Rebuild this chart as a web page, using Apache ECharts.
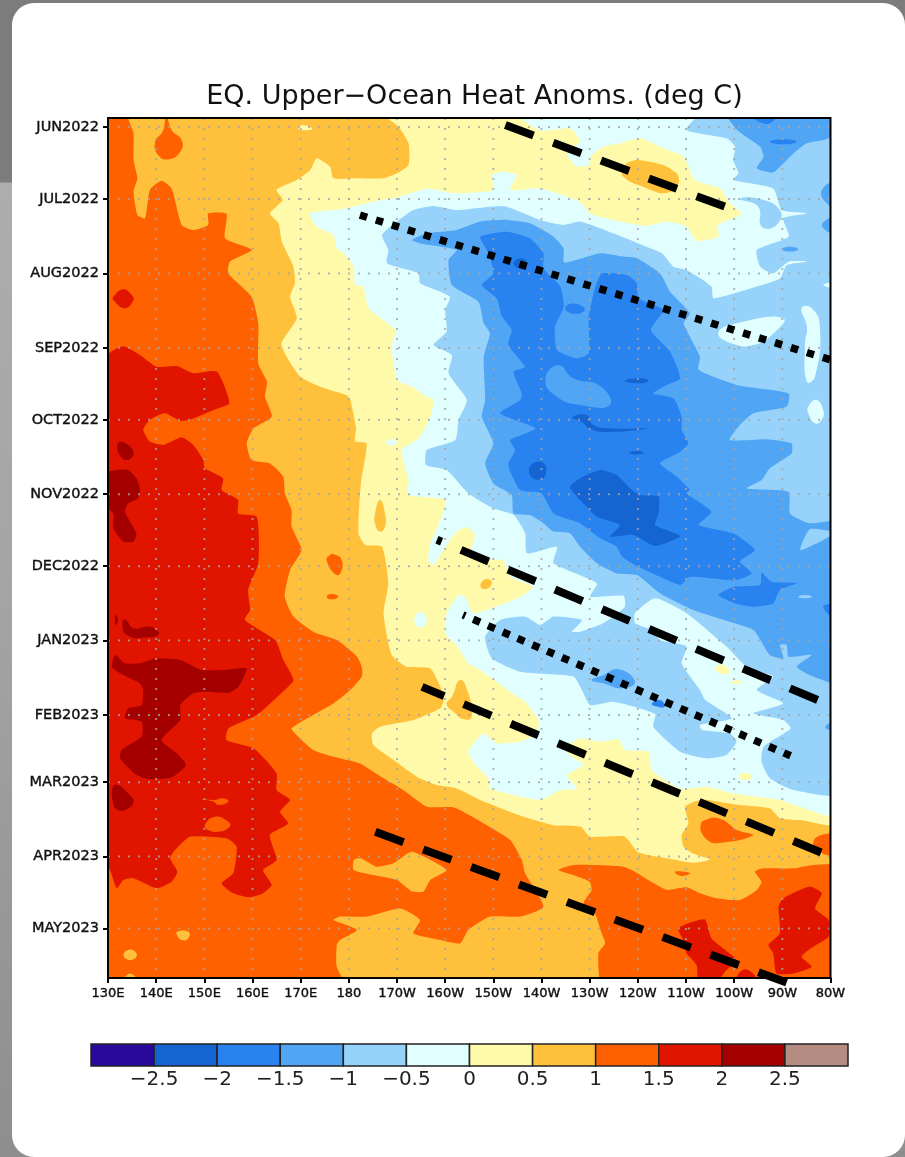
<!DOCTYPE html>
<html><head><meta charset="utf-8">
<style>
html,body{margin:0;padding:0;width:905px;height:1157px;overflow:hidden;
background:linear-gradient(180deg,#7c7c7c 0,#7c7c7c 182px,#adadad 183px,#a4a4a4 600px,#8e8e8e 1157px);}
#card{position:absolute;left:12px;top:3px;width:893px;height:1154px;background:#fff;border-radius:22px;}
#main{position:absolute;left:0;top:0;width:905px;height:1157px;}
</style>
<script src="https://cdn.jsdelivr.net/npm/echarts@6/dist/echarts.min.js"></script>
</head><body><div id="card"></div><div id="main"></div>
<script>
// ---- axes ----
const lonTicks=[130,140,150,160,170,180,190,200,210,220,230,240,250,260,270,280];
const lonLabels=['130E','140E','150E','160E','170E','180','170W','160W','150W','140W','130W','120W','110W','100W','90W','80W'];
const monthDays=[0,30,61,92,122,153,183,214,245,273,304,334];
const monthLabels=['JUN2022','JUL2022','AUG2022','SEP2022','OCT2022','NOV2022','DEC2022','JAN2023','FEB2023','MAR2023','APR2023','MAY2023'];
// ---- colour scale ----
const bandEdges=[-3,-2.5,-2,-1.5,-1,-0.5,0,0.5,1,1.5,2,2.5,3];
const bandColors=['#2a0a9c','#1464d2','#2882f0','#50a5f5','#96d2fa','#e1ffff','#fffaaa','#ffc03c','#ff6000','#e11400','#a50000','#b48c82'];
// ---- contour outlines, [longitude east, days since 1 Jun 2022] ----
const fieldBase=[[125,-10],[285,-10],[285,360],[125,360]];
const gt15West=[[128,98.5],[131.8,92.2],[133.5,91.5],[136.6,95],[140.1,99.9],[144.3,99.6],[147.7,102.6],[152.6,101.9],[155.2,115],[151.9,117.9],[147,122],[145,122.4],[141.8,119.3],[138.7,122],[137.3,126.2],[138.7,131.1],[141.5,132.5],[145.3,129.3],[147.7,132.5],[149.8,138.8],[150.1,142.2],[153.9,146.4],[153.6,151.3],[157,155.4],[157,161],[160.9,162.4],[161.2,181.8],[159.1,192.9],[159.5,201.3],[158.4,205.4],[164.7,213.8],[166.4,222.1],[168.5,230.4],[166.7,234.6],[160.9,245],[155,250.6],[154.6,255.4],[160.2,258.9],[165,269.3],[165,276.3],[167.8,280.4],[165.7,285.3],[167.4,290.2],[163.6,295],[165,305.4],[162.2,309.6],[164,315.9],[162.2,319.3],[159.5,321],[156,319.3],[153.6,315.2],[156,311],[156.7,299.9],[154.6,296.4],[147,295.7],[143.9,301.3],[142.9,304.7],[144.4,310.3],[143.2,314.5],[140.1,317.2],[135.3,313],[133.2,313.8],[131.8,317.2],[130.4,309.6],[128,304]];
const gt15Spot=[[131.1,70.7],[133.2,67.6],[134.9,70],[135.3,72.1],[133.5,75.5],[131.1,72.1]];
const gt2A=[[132.5,131.1],[135.3,135.3],[133.9,138.8],[132.1,135.3]];
const gt2B=[[128,145],[131.8,142.9],[134.2,142.9],[135.9,146.4],[136.6,150.6],[136.3,154.7],[134.2,156.8],[133.5,160.3],[135.9,169.3],[135.3,172.8],[133.2,172.8],[131.1,167.2],[131.1,161],[128,155.4]];
const gt2C=[[133,206.1],[133.7,205.4],[135.3,208.9],[138.7,208.2],[140.6,211],[138.7,212.6],[133.9,211.7]];
const gt2D=[[131.5,203.3],[132.1,205.4],[131.6,207.5]];
const gt2E=[[131.5,220],[133.5,223.5],[136.6,223.5],[140.1,221.4],[145,222.1],[149.4,226.3],[153.9,226.3],[158.8,225.6],[157.1,233.2],[155,235.7],[149.8,235.3],[147.7,236],[145,240.9],[145,247.1],[141.1,255.4],[144.3,261],[146.2,265.9],[143.2,271],[138.7,271.8],[135.9,270],[132.5,263],[132.8,259.6],[137,254],[137,247.8],[133.5,246.4],[134.2,242.2],[137,240.9],[137.3,234.6],[136.6,231.8],[132.5,227.6],[130.8,224.9]];
const gt2F=[[131,274.9],[132.1,274.2],[134.2,277.7],[135.3,281.1],[133.9,284.3],[131.8,284.3],[131,281.1]];
const lt15A=[[150.1,290.9],[152.2,287.4],[155,289.5],[155.3,291.5],[153.2,293.6],[150.8,292.9]];
const lt15B=[[149.4,280.2],[152.2,280.4],[153.9,279.7],[155,281.1],[152.9,282.5],[151.9,281.1]];
const lt1Main=[[134.2,-6],[135.3,2.6],[135.3,13.7],[136.1,21.4],[135.3,26.9],[136.1,36.7],[137.7,38],[138.7,26.2],[141.1,22.4],[143.2,25.6],[145.3,40.8],[147.7,42.9],[150.8,40.8],[150.8,36],[154.6,36.2],[154.3,46.4],[159.8,51.2],[155.3,56.1],[155,61],[159.8,70.7],[161.2,81.8],[161.2,98.5],[163,106.1],[162.6,112.4],[164,120.7],[160.2,125.6],[158.8,131.8],[159.8,138.8],[163.6,140.2],[166.4,145.7],[166.7,152.6],[168.1,159.6],[168.1,166.5],[170.2,176.2],[167.8,184.6],[166.7,195.7],[168.5,204],[172.6,210.3],[177.5,213.8],[181.7,220.7],[182.7,225],[182.7,229],[180.3,234.6],[176.8,240.2],[172.6,245],[168.1,250.6],[169.2,253.4],[172.6,259.6],[176.8,262.4],[182.3,265.2],[187.2,271.4],[191.3,276.3],[196.2,283.2],[201.7,283.5],[208,290.2],[213.5,297.1],[215.9,305.4],[216.6,311],[220.4,324.9],[215.6,329],[209.3,329],[204.8,334.6],[203.1,340.2],[199,338.8],[193.4,336],[194.8,330.4],[190.7,325.6],[183.7,329],[178.2,329],[176.8,330.4],[178.8,332],[181.7,334.6],[178.2,338.8],[177.5,340.8],[177.5,350],[179.9,357],[290,360],[290,-15]];
const lt1Isle=[[181,305.4],[182.4,304.7],[185.8,308.2],[189.3,306.8],[193.1,302],[200.3,309.6],[196.9,313.8],[195.5,318.6],[193.1,318.6],[190,313.8],[185.1,311.7],[181,309.6]];
const lt1Spot1=[[144.3,335.3],[146.7,335.3],[146.7,338],[145.3,338.8],[144.3,336.7]];
const lt1Spot2=[[133.2,345],[134.6,342.7],[136,345],[134.6,347.1]];
const lt1Spot3=[[133.2,356],[134.6,352.7],[136,356]];
const gt1East=[[223.5,309.6],[226.6,307.5],[237,308.2],[239.4,310.3],[242.2,313.8],[246,317.9],[250.1,316.8],[252.9,319.3],[256.4,321.4],[261.2,322.1],[264.7,317.9],[265.7,314.5],[264.3,310.3],[266,308.9],[272.3,308.9],[276.4,307.5],[282,308.2],[290,360],[232.8,358],[231.8,344.3],[233.2,340.2],[232.5,336],[231.1,327.7],[228.7,323.5],[230.4,318],[230,314.5],[226.6,311.7]];
const gt1Top=[[142,-6],[143.2,1.2],[145.3,5.4],[145,10.3],[142.5,13.5],[140.4,11.7],[139.8,6.1],[141.5,1.2]];
const gt1Cen1=[[176.8,177.9],[178.5,180.4],[178.2,186],[177.1,186.3],[175.4,180.4],[176.1,178.3]];
const gt1Cen2=[[175.4,195.7],[176.4,194.6],[177.8,195.7],[176.4,196.8]];
const gt1Sml=[[247.7,310.3],[250.8,310.9],[249.1,312.1]];
const gt1E1=[[253.3,289.5],[255.7,287.7],[257.8,288.8],[260.5,292.9],[264,295],[261.2,297.1],[255.7,298.5],[254,296.4],[253,292.9]];
const gt1E2=[[276.4,298.5],[278.2,295],[282,295.7],[282,302.6],[278.2,302.6]];
const gt15E1=[[269.2,324.9],[270.2,321.4],[275.7,316.5],[278.2,319.3],[276.8,325.6],[279.6,330.4],[279.6,337.4],[276.4,341.6],[274,345.7],[276.1,349.9],[272.3,352.7],[268.8,352.7],[268.1,344.3],[267.1,340.9],[269.5,336]];
const gt15E2=[[248.4,333.9],[253.9,330.2],[255.3,338.1],[260.5,347.1],[258.4,351.3],[256.4,356],[252.6,356],[252.2,349.2],[250.1,344.3],[249.8,340.2]];
const gt15E3=[[260.5,356],[262.3,351],[264.7,356]];
const lt05Main=[[186.9,-6],[190.3,-0.1],[192.4,6.8],[192.4,15.8],[190,19.3],[187.2,21.4],[181.7,21.4],[176.8,21.4],[176.1,16.5],[173.3,13],[172,17.9],[169.2,22.1],[165,26.2],[166.3,30.4],[163.6,36],[165.4,40.1],[166.1,47.8],[168.5,58.2],[168.8,65.1],[167.8,70.7],[169.2,79.7],[166,90.1],[167.1,95.7],[169.9,104],[174,108.2],[179.5,111.7],[180.3,113.75],[181.5,125.6],[181.3,131.1],[183.7,131.8],[182.5,148.5],[182,169.3],[183.4,174.2],[186.9,174.9],[188.2,190.1],[187.2,202.6],[188.9,220],[192,224.9],[196.9,225.6],[199,233.2],[199.7,238.8],[199,242.2],[193.4,247.1],[186.5,249.9],[184.8,252.7],[185.1,257.5],[189.3,263.8],[194.1,270.7],[198.3,274.2],[202.4,275.6],[208,281.1],[210.7,283.2],[216.3,287.4],[222.5,290.9],[228,291.5],[230.1,295.7],[237.3,295.7],[240.1,302.2],[246,304.7],[251.5,306.6],[255,305.2],[251.5,302.7],[249.5,299.9],[249.1,295],[250.5,290.2],[249.8,283.2],[252.9,280.4],[255.3,280.7],[261.2,282.5],[267.4,283.9],[269.5,288],[273.7,288.8],[282,290.2],[290,-15]];
const lt05Top=[[169.5,0.9],[170.5,-0.8],[172.4,0.9]];
const gt05Lobe=[[203.1,230.4],[204.8,236],[205.5,245.7],[203.8,246.8],[202.1,244.3],[200.3,240.4],[201.4,237.4]];
const gt05Sm1=[[186.5,155.4],[187.5,161],[187.5,166.5],[186.5,168.6],[185.5,165.8],[185.5,160.3]];
const gt05Sm2=[[207.3,190.8],[208.6,188.3],[209.7,190.1],[208.3,192.6]];
const gt05Top=[[236.7,20],[237.7,15.1],[240.1,13.7],[245.3,15.8],[248.1,19.3],[248.6,22.8],[247,26.9],[244.6,27.6],[241.1,24.9],[238.4,22.8]];
const lt0Main=[[214.9,-6],[219.7,1.5],[226,0.6],[228,6.1],[225.3,11],[227.3,16.5],[229.8,15.8],[230.1,12.4],[232.8,8.2],[236.3,6.8],[240.5,4.7],[245.3,8.9],[249.5,12.4],[251.9,22.1],[257.1,25.6],[259.1,31.8],[261.6,36.3],[256.7,40.8],[256.7,45.7],[252.2,47.4],[250.1,41.5],[246,39.4],[241.8,41.2],[234.9,38.7],[230.1,36],[228,31.1],[219.7,25.6],[213.5,26.2],[214.9,20],[212.1,18.6],[209.7,20],[210,26.2],[201.7,27.6],[196.5,25.6],[190,29.3],[185.1,31.1],[178.2,34.3],[171.9,36],[173.3,41.5],[176.8,45],[177.5,50.6],[179,52.6],[181,58.2],[181.3,65.8],[183,66.5],[184.1,75.5],[189.6,84.6],[188.9,91.5],[190,105.4],[193.1,108.2],[196.2,112.4],[197.6,113.75],[196.9,120.7],[194.5,129.7],[191,134.6],[192.4,147.1],[192.4,153.3],[200,155.4],[198.6,165.8],[196.9,173.5],[196.5,180.4],[197.6,182.5],[199.7,176.2],[202.4,168.6],[204.5,166.8],[206.2,170],[205.5,176.2],[210,180.4],[212.1,180.4],[213.5,187.4],[218.3,191.5],[215.6,195.7],[211.4,199.2],[205.9,202.6],[204.1,195.7],[202.8,195],[200.3,202.6],[200,211],[202.4,215.8],[204.8,223.5],[207.3,226.3],[214.9,237.4],[216.3,238.8],[219.4,247.1],[219,252.7],[215.6,256.1],[210.7,256.8],[208,252.7],[204.8,260.3],[206.6,266.5],[209,271.4],[209.3,275.6],[219.7,280.4],[223.9,276.3],[227.3,275.6],[225.3,270],[228.7,265.8],[225.3,261],[225.3,258.2],[228,254.7],[232.2,256.1],[236,255.2],[237.3,259.6],[242.2,260.3],[242.9,267.9],[248.8,275.6],[254.3,274.9],[259.8,277.7],[269.5,280.4],[282,286.3],[290,-15]];
const lt0Sm1=[[187.7,131.4],[188.9,130.1],[190.1,131.4],[188.9,132.8]];
const lt0Sm2=[[193.6,205.4],[194.8,202],[196.2,205.4],[194.8,208.6]];
const gt0Sm1=[[256,225.6],[257.8,224.2],[259,227],[257.8,228]];
const gt0Sm2=[[259.5,231.1],[261.6,230.8],[260.2,232.2]];
const gt0Sm3=[[260.9,270.4],[262.3,269.3],[263.8,270.7],[262.3,272.1]];
const ltm05Main=[[253.6,-6],[250.1,1.2],[258.4,4.7],[260.2,8.2],[259.8,13.8],[260.9,19.3],[259.8,22.1],[268.1,25.6],[269.9,34.6],[275.1,36],[270.2,38],[271.3,45.7],[264.7,51.2],[265.4,58.2],[268.1,61],[271.3,56.1],[275.1,56.1],[270.9,57.5],[269.5,63.1],[264.7,66.5],[255.7,71.4],[255.3,66.5],[250.1,59.6],[247.4,58.2],[245,52.6],[240.1,48.5],[234.9,44.3],[228,39.4],[224.6,40.8],[219.7,38.7],[212.8,33.2],[209.3,33.2],[202.4,34.6],[197.6,32.9],[193.4,34.6],[190,39.4],[186.9,45],[188.2,51.2],[187.9,56.8],[194.5,61],[194.8,65.1],[201,70.7],[200,76.3],[200.3,85.3],[197.6,90.8],[201.4,95],[200.7,102.6],[204.5,113.75],[202.8,122],[202.1,130.4],[196.2,134.6],[196,140.8],[200.3,142.9],[204.8,152.6],[210,158.9],[214.2,161.7],[216.6,169.3],[217,177.6],[223.2,174.9],[222.5,181.8],[231.5,190.1],[230.1,195.7],[237,195.3],[237.3,199.9],[232.8,206.8],[228,210.3],[226.3,210.3],[228.4,205.4],[222.5,204],[219.7,207.5],[216.6,204],[211.4,205.4],[208.3,212.4],[209.7,221.4],[215.6,227],[226.6,229],[228.4,234.6],[230.1,240.9],[234.9,239.5],[243.6,244.6],[243.2,249.9],[248.8,260.3],[254.3,263.1],[258.4,261.7],[260.5,256.1],[259.1,252.7],[253.3,251.3],[252.9,249.2],[259.5,246.4],[254,238.8],[252.9,234.6],[249.1,223.5],[250.1,216.5],[244.6,213.8],[242.9,209.6],[239.4,206.8],[239.4,202.6],[243.6,196.4],[250.1,202.6],[258.4,216.5],[262.6,224.9],[268.1,229],[264.7,234.6],[270.2,240.2],[264,244.3],[270.2,247.1],[271.7,250.6],[266.1,258.2],[265.7,264.5],[267.4,271.4],[272.3,276.3],[282,277.4],[290,-15]];
const ltm05Isle=[[261.2,30.1],[264.7,29.7],[269.5,34.6],[268.8,40.8],[265.7,41.5],[265,33.2]];
const ltm05R1=[[278.9,250],[282,247.8],[282,252]];
const gtm05A=[[256.7,86],[260.5,81.8],[270.2,79.7],[267.4,87.4],[264,90.8],[260.5,90.8]];
const gtm05B=[[274,75.5],[276.1,75.5],[277.8,83.2],[276.8,104],[275.1,106.1],[274.7,90.2],[275.1,83.2]];
const gtm05C=[[275.4,116.5],[277.1,113.75],[278.5,118],[278.2,122],[276.8,123.5],[275.4,119.3]];
const gtm05D=[[278.5,65.8],[282,64.9],[282,67.2]];
const ltm1Main=[[193.1,47.1],[196.2,44.3],[202.4,42.9],[207.3,39.4],[212.8,38.7],[217.6,40.1],[222.5,45.7],[224.6,50.6],[224.7,56.5],[232.2,52.6],[237,54],[239.8,54.7],[244.6,61],[246.7,68.6],[250.8,77.6],[249.5,81.8],[252.9,95.7],[252.6,101.2],[260.5,107.5],[271.3,111],[270.9,116.5],[264,119.3],[261.2,124.2],[259.1,130.4],[266.8,130.1],[271.9,131.8],[271.9,136],[267.4,142.2],[265.7,147.1],[262.6,150.6],[271.3,152],[271.6,161],[275.7,165.1],[282,163.8],[282,168.6],[275.7,167.6],[273.7,176.3],[277.1,173.5],[282,169.5],[282,231.8],[276.4,229],[273,224.9],[276.1,220],[271.3,220.7],[270.9,215.8],[269.5,215.8],[270.2,221.4],[267.4,220],[264,209.6],[257.8,205.4],[251.5,201.3],[244.6,194.3],[239.8,186.7],[235.6,186],[231.5,181.8],[228,174.9],[225.9,169.3],[222.5,168.6],[220.4,165.1],[217.6,161.7],[214.2,161],[213.8,153.3],[210,148.5],[208.3,140.1],[210,131.8],[207.6,120.7],[208.3,113.75],[208,95.7],[209.3,86],[208,81.8],[206.9,72.8],[201.4,65.8],[200.7,55.4],[202.4,51.2],[194.8,48.5]];
const ltm1Top=[[258.4,-6],[260.5,1],[265.4,8.2],[266.1,12.4],[264.7,17.2],[268.1,18.9],[272.3,11],[275.1,6.8],[279.6,4.7],[290,-15]];
const ltm1R1=[[282,22.8],[278.2,26.2],[279.6,32.5],[282,32.5]];
const ltm1R2=[[282,37.4],[278.2,40.8],[282,45]];
const ltm1Sm=[[269.9,50.9],[271.6,49.9],[273.3,50.9],[271.6,51.9]];
const ltm1R3=[[279.5,153],[282,152.6],[282,157]];
const ltm1Low=[[230.4,230.4],[232.8,228.4],[236,226],[239.4,231.1],[237,233.9],[232.8,231.8]];
const gtm1Sm=[[273.3,195.7],[274.7,195],[276.1,195.7],[274.7,196.4]];
const ltm15Main=[[207.3,45.7],[212.8,43.6],[217.6,46.4],[220.4,52.6],[220.4,58.9],[223.9,66.5],[224.6,74.9],[222.8,83.2],[223.2,92.9],[227.3,96.4],[229.8,94.3],[229.8,83.2],[229.8,79],[231.1,67.2],[232.5,61],[237.7,61.7],[239.8,65.1],[240.1,71.4],[245.3,76.3],[242.7,84.6],[246.7,93.6],[248.8,104.7],[246,107.5],[243.2,111],[247.4,113],[249.1,120.7],[249.1,126.2],[250.5,131.8],[248.8,135.3],[244.6,140.1],[248.1,145.7],[250.8,151.2],[250.1,152.6],[255.3,160.3],[252.6,165.8],[259.8,169.3],[264.3,176.3],[261.2,181.1],[263.6,186],[260.2,188.8],[250.8,187.4],[248.8,190.8],[239.4,182.5],[236.7,179],[235.6,174.9],[232.2,171.4],[228,165.1],[222.5,161],[220,152.6],[215.6,151.3],[213.1,140.8],[214.5,134.6],[213.5,130.4],[218.7,125.6],[211.4,119.3],[215.6,113.75],[215.9,111],[214.2,102],[216.6,99.9],[213.1,90.8],[213.8,84.6],[211.8,79],[210.7,71.4],[207.6,65.8],[210,61],[209,52.6]];
const ltm15E=[[256.7,195],[260.2,191.5],[265.4,190.8],[265.7,185.7],[267.8,189.5],[273,190.1],[269.5,192.9],[268.1,198.5],[264,199.9],[260.2,198.5]];
const ltm15T1=[[263.3,-6],[268.8,-6],[266.8,-1.2]];
const ltm15T2=[[267.4,6.1],[270.2,5.1],[273,6.1],[270.2,7.2]];
const ltm15Oval=[[224.9,75.5],[226.6,73.5],[229,75.9],[226.9,77.9]];
const ltm15R=[[278.5,199.9],[282,199.9],[282,206]];
const ltm15Low=[[242.9,240.2],[244.6,238.8],[245.6,241.5],[243.9,241.5]];
const gtm15Isle=[[220.8,105.4],[223.5,99.2],[226.6,104.7],[232.2,107.9],[234.2,115.8],[228,115.8],[223.2,112.4]];
const ltm2Main=[[225.9,150.1],[228,146.4],[232.2,142.9],[235.6,145],[238.4,150.6],[240.5,153.3],[244.3,154],[244.3,161],[243.6,165.8],[248.8,170.4],[243.6,174.6],[239.1,170],[234.2,170.7],[236.3,165.8],[231.5,162.4],[229.4,158.2],[228,155.4]];
const ltm2Sq=[[217.8,140.8],[220.5,140.1],[220.5,146],[218,146]];
const ltm2Str=[[226.4,121],[229.4,120],[230.8,124.2],[234.9,125.6],[241.8,125.6],[234.9,127],[230.4,126.2],[228.3,122.8]];
const ltm2Sm1=[[238.4,135.3],[241,135.3],[241,136.2],[238.4,136.2]];
const ltm2Sm2=[[237.3,105.7],[240.5,104.7],[242.2,105.7],[240.1,106.8]];
const ltm2Sm3=[[214.2,56.8],[215.9,54.7],[217,56.8],[215.6,58.9]];
// band index and outline, in drawing order
const layers=[
[8,fieldBase],[9,gt15West],[9,gt15Spot],[10,gt2A],[10,gt2B],[10,gt2C],[10,gt2D],[10,gt2E],[10,gt2F],[8,lt15A],[8,lt15B],
[7,lt1Main],[7,lt1Isle],[7,lt1Spot1],[7,lt1Spot2],[7,lt1Spot3],[8,gt1Top],[8,gt1Cen1],[8,gt1Cen2],[8,gt1East],[8,gt1Sml],[8,gt1E1],[8,gt1E2],
[9,gt15E1],[9,gt15E2],[9,gt15E3],
[6,lt05Main],[6,lt05Top],[7,gt05Lobe],[7,gt05Sm1],[7,gt05Sm2],[7,gt05Top],
[5,lt0Main],[5,lt0Sm1],[5,lt0Sm2],[6,gt0Sm1],[6,gt0Sm2],[6,gt0Sm3],
[4,ltm05Main],[4,ltm05Isle],[5,gtm05A],[5,gtm05B],[5,gtm05C],[5,gtm05D],[3,ltm05R1],
[3,ltm1Main],[3,ltm1Top],[3,ltm1R1],[3,ltm1R2],[3,ltm1Sm],[3,ltm1R3],[3,ltm1Low],[4,gtm1Sm],
[2,ltm15Main],[2,ltm15E],[2,ltm15T1],[2,ltm15T2],[2,ltm15Oval],[2,ltm15R],[2,ltm15Low],[3,gtm15Isle],
[1,ltm2Main],[1,ltm2Sq],[1,ltm2Str],[1,ltm2Sm1],[1,ltm2Sm2],[1,ltm2Sm3]
];
// ---- hand-drawn guide lines, [longitude east, day] ----
const dashLine1=[[212.5,-0.8],[258.2,33.3]];
const dashLine2=[[198.3,172],[278.3,239.6]];
const dashLine3=[[195.2,233.3],[278.3,302.5]];
const dashLine4=[[185.5,293.7],[271.2,356.7]];
const dotLine1=[[182.3,36.7],[280,97]];
const dotLine2=[[203.7,203.3],[271.7,262]];
const dayMin=-3.75, dayMax=354.6;

const guide=(d,dash,w,off)=>({type:'line',xAxisIndex:0,yAxisIndex:0,data:d,symbol:'none',clip:false,silent:true,z:6,
  lineStyle:{color:'#000',width:w,type:dash,dashOffset:off,cap:'butt'}});
const gridSegs=lonTicks.slice(1,-1).map(v=>[v,dayMin,v,dayMax]).concat(monthDays.map(d=>[130,d,280,d]));

const chart=echarts.init(document.getElementById('main'),null,{renderer:'canvas'});
chart.setOption({
 animation:false,
 backgroundColor:'transparent',
 title:{text:'EQ. Upper\u2212Ocean Heat Anoms. (deg C)',left:469.5,top:78,textAlign:'center',
   textStyle:{fontFamily:'DejaVu Sans',fontSize:27,fontWeight:'normal',color:'#111'}},
 grid:[{left:108,top:118,width:722.5,height:860,show:true,borderColor:'#000',borderWidth:2,backgroundColor:'transparent',z:7},
       {left:91,top:1044,width:757,height:22}],
 xAxis:[{type:'value',gridIndex:0,min:130,max:280,interval:10,z:8,
   splitLine:{show:false},axisLine:{onZero:false,lineStyle:{color:'#000',width:2}},
   axisTick:{length:5,lineStyle:{color:'#000',width:2}},
   axisLabel:{margin:9,fontFamily:'DejaVu Sans',fontSize:13,color:'#111',textBorderColor:'#111',textBorderWidth:0.4,
     formatter:v=>lonLabels[lonTicks.indexOf(v)]}},
  {type:'value',gridIndex:1,min:-3,max:3,interval:0.5,splitLine:{show:false},axisLine:{show:false},axisTick:{show:false},
   axisLabel:{margin:4,fontFamily:'DejaVu Sans',fontSize:20,color:'#222',
     formatter:v=>(v===-3||v===3)?'':String(v).replace('-','\u2212')}}],
 yAxis:[{type:'value',gridIndex:0,min:dayMin,max:dayMax,inverse:true,z:8,
   splitLine:{show:false},axisLine:{onZero:false,lineStyle:{color:'#000',width:2}},
   axisTick:{length:5,customValues:monthDays,lineStyle:{color:'#000',width:2}},
   axisLabel:{margin:9,customValues:monthDays,fontFamily:'DejaVu Sans',fontSize:14.5,color:'#111',textBorderColor:'#111',textBorderWidth:0.4,
     formatter:v=>monthLabels[monthDays.indexOf(v)]}},
  {type:'value',gridIndex:1,min:0,max:1,show:false}],
 series:[
  {type:'custom',coordinateSystem:'cartesian2d',xAxisIndex:0,yAxisIndex:0,clip:true,silent:true,z:2,
   data:layers.map((l,i)=>[l[1][0][0],l[1][0][1],i]),encode:{x:0,y:1},
   renderItem:(p,api)=>{const l=layers[p.dataIndex];
     return {type:'polygon',shape:{points:l[1].map(c=>api.coord(c)),smooth:l[1].length>8?0.18:0.5},
       style:{fill:bandColors[l[0]],stroke:null}};}},
  {type:'custom',coordinateSystem:'cartesian2d',xAxisIndex:0,yAxisIndex:0,clip:true,silent:true,z:3,
   data:gridSegs,encode:{x:0,y:1},
   renderItem:(p,api)=>{const s=gridSegs[p.dataIndex],a=api.coord([s[0],s[1]]),b=api.coord([s[2],s[3]]);
     return {type:'line',shape:{x1:a[0],y1:a[1],x2:b[0],y2:b[1]},
       style:{stroke:'rgba(165,165,165,0.8)',lineWidth:2,lineDash:[2,8]}};}},
  guide(dashLine1,[30,21],8,0),guide(dashLine2,[30,21],8,25),guide(dashLine3,[30,21],8,6),guide(dashLine4,[30,21],8,0),
  guide(dotLine1,[7.5,9.2],7.5,0),guide(dotLine2,[7.5,8.6],7.5,5),
  {type:'custom',coordinateSystem:'cartesian2d',xAxisIndex:1,yAxisIndex:1,silent:true,z:2,
   data:bandColors.map((c,i)=>[bandEdges[i],0,bandEdges[i+1],1]),encode:{x:0,y:1},
   renderItem:(p,api)=>{const i=p.dataIndex,a=api.coord([bandEdges[i],1]),b=api.coord([bandEdges[i+1],0]);
     return {type:'rect',shape:{x:a[0],y:a[1],width:b[0]-a[0],height:b[1]-a[1]},
       style:{fill:bandColors[i],stroke:'#222',lineWidth:1.5}};}}
 ]
});
</script></body></html>
